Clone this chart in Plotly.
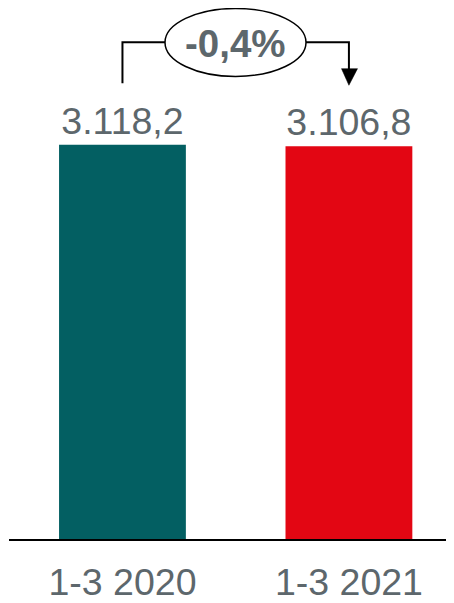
import plotly.graph_objects as go

categories = ["1-3 2020", "1-3 2021"]
values = [3118.2, 3106.8]
value_labels = ["3.118,2", "3.106,8"]
bar_colors = ["#035f62", "#e30613"]
change_label = "-0,4%"

# the page body adds an 8px offset; work in reference pixel coords minus OFF
OFF = 8
W, H = 454 - OFF, 603 - OFF
AXIS_Y = 551 - OFF
ML = 9 - OFF
MB = H - AXIS_Y
PLOT_H = AXIS_Y
X_RANGE = [-0.501, 1.464]
Y_MAX = 4201
FONT = "Arial, Liberation Sans, sans-serif"
GRAY = "#5d676c"

px_per_unit = (W - ML) / (X_RANGE[1] - X_RANGE[0])


def yv(py):
    """reference pixel y (from top) -> data value"""
    return (PLOT_H - (py - OFF)) / PLOT_H * Y_MAX


def xv(px):
    """reference pixel x -> category axis coordinate"""
    return X_RANGE[0] + (px - OFF - ML) / px_per_unit


fig = go.Figure()
fig.add_trace(go.Bar(
    x=[0, 1], y=values, marker=dict(color=bar_colors, line=dict(width=0)),
    width=0.56, text=value_labels, textposition="outside",
    textfont=dict(family=FONT, size=37.5, color=GRAY), cliponaxis=False,
    hoverinfo="skip",
))

shapes = []
line = dict(color="black", width=2)
# ellipse
shapes.append(dict(type="circle", xref="x", yref="y",
                   x0=xv(165), x1=xv(306), y0=yv(78), y1=yv(8.5),
                   line=dict(color="black", width=1.5), fillcolor="white"))
# left bracket
shapes.append(dict(type="path", xref="x", yref="y",
                   path=f"M {0} {yv(85)} L {0} {yv(43)} L {xv(165)} {yv(43)}",
                   line=line))
# right bracket
shapes.append(dict(type="path", xref="x", yref="y",
                   path=f"M {xv(306)} {yv(43)} L {1} {yv(43)} L {1} {yv(71)}",
                   line=line))
# arrow head
shapes.append(dict(type="path", xref="x", yref="y",
                   path=f"M {xv(341.5)} {yv(70)} L {xv(357.5)} {yv(70)} L {1} {yv(87)} Z",
                   line=dict(color="black", width=0.5), fillcolor="black"))

fig.update_layout(
    width=W, height=H,
    margin=dict(l=ML, r=0, t=0, b=MB, pad=0),
    paper_bgcolor="white", plot_bgcolor="white",
    showlegend=False,
    shapes=shapes,
    annotations=[dict(x=0.5, y=yv(44.5), xref="x", yref="y", text=f"<b>{change_label}</b>",
                      showarrow=False, font=dict(family=FONT, size=38.5, color=GRAY),
                      xanchor="center", yanchor="middle")],
    xaxis=dict(range=X_RANGE, tickmode="array", tickvals=[0, 1], ticktext=categories,
               showline=True, linecolor="black", linewidth=2, showgrid=False,
               zeroline=False, ticks="", tickfont=dict(family=FONT, size=37.5, color=GRAY),
               ticklabelstandoff=9),
    yaxis=dict(range=[0, Y_MAX], visible=False, showgrid=False, zeroline=False),
)

fig.write_html("out.html")
